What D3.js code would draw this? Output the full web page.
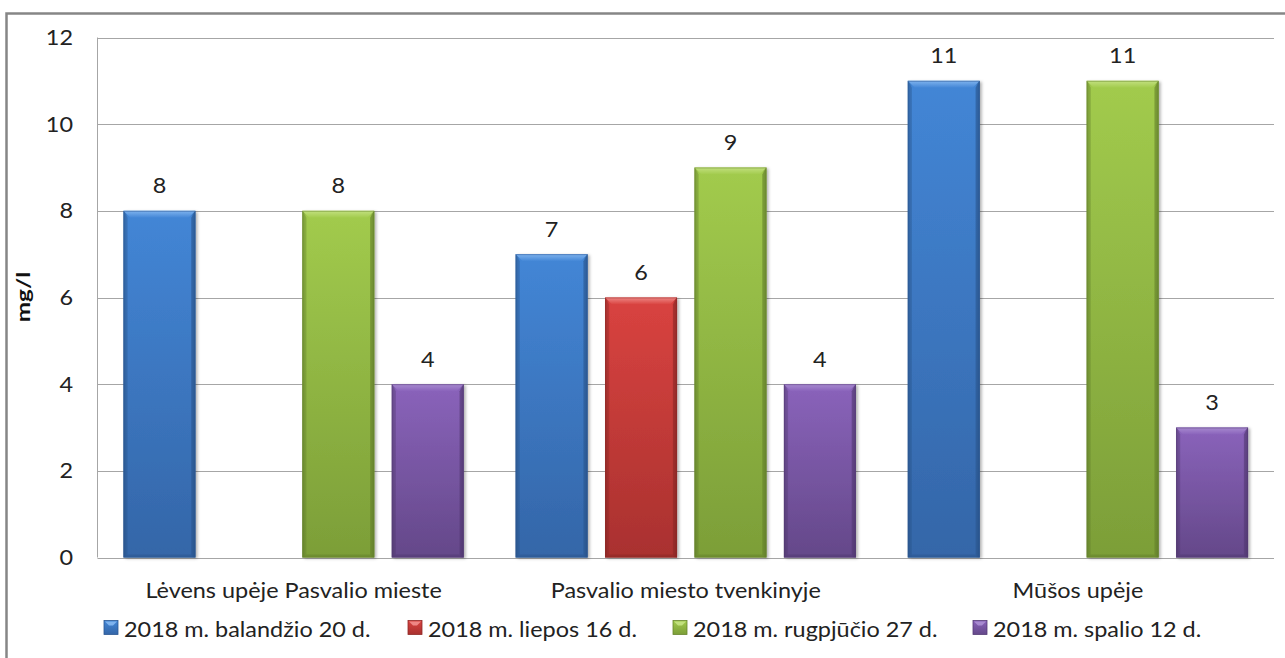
<!DOCTYPE html>
<html><head><meta charset="utf-8">
<script src="https://cdn.jsdelivr.net/npm/d3@7"></script>
<style>html,body{margin:0;padding:0;background:#fff;}svg{display:block;}</style>
</head><body>
<svg id="c" width="1285" height="658"></svg>
<script>
const categories = ["Lėvens upėje Pasvalio mieste", "Pasvalio miesto tvenkinyje", "Mūšos upėje"];
const seriesNames = ["2018 m. balandžio 20 d.", "2018 m. liepos 16 d.", "2018 m. rugpjūčio 27 d.", "2018 m. spalio 12 d."];
const balandzio = [8, 7, 11];
const liepos = [null, 6, null];
const rugpjucio = [8, 9, 11];
const spalio = [4, 4, 3];
const yTicks = [0, 2, 4, 6, 8, 10, 12];
const yLabel = "mg/l";

(function(){
const seriesValues = [balandzio, liepos, rugpjucio, spalio];
const palette = [
  {top:"#7fb3ee", body1:"#4386d6", body2:"#3466a8", edge:"#2b5893"},
  {top:"#ee8785", body1:"#d94340", body2:"#a9312f", edge:"#8f2826"},
  {top:"#c2e07f", body1:"#a2cb4d", body2:"#7c9e38", edge:"#68862d"},
  {top:"#a88bd0", body1:"#8a63bb", body2:"#644889", edge:"#553b76"}
];
const FONT = "Lato, 'Open Sans', sans-serif";
const FS = 21.5;
const SX = 1.09; // horizontal stretch of text, as in the reference

const svg = d3.select("#c");
const defs = svg.append("defs");
palette.forEach((p,i)=>{
  const g = defs.append("linearGradient").attr("id","body"+i).attr("x1",0).attr("y1",0).attr("x2",0).attr("y2",1);
  g.append("stop").attr("offset","0%").attr("stop-color",p.body1);
  g.append("stop").attr("offset","100%").attr("stop-color",p.body2);
  const h = defs.append("linearGradient").attr("id","side"+i).attr("x1",0).attr("y1",0).attr("x2",1).attr("y2",0);
  h.append("stop").attr("offset","0%").attr("stop-color","#000").attr("stop-opacity",0.18);
  h.append("stop").attr("offset","6%").attr("stop-color","#000").attr("stop-opacity",0.0);
  h.append("stop").attr("offset","94%").attr("stop-color","#000").attr("stop-opacity",0.0);
  h.append("stop").attr("offset","100%").attr("stop-color","#000").attr("stop-opacity",0.25);
  const t = defs.append("linearGradient").attr("id","top"+i).attr("x1",0).attr("y1",0).attr("x2",0).attr("y2",1);
  t.append("stop").attr("offset","0%").attr("stop-color",p.top);
  t.append("stop").attr("offset","100%").attr("stop-color",p.body1);
});
const sh = defs.append("filter").attr("id","shadow").attr("x","-10%").attr("y","-5%").attr("width","130%").attr("height","115%");
sh.append("feDropShadow").attr("dx",2).attr("dy",1).attr("stdDeviation",1.5).attr("flood-color","#000").attr("flood-opacity",0.3);

// outer border
svg.append("rect").attr("x",6.5).attr("y",13.5).attr("width",1290).attr("height",660)
  .attr("fill","#fff").attr("stroke","#868686").attr("stroke-width",2.5);

const pLeft = 97.5, pRight = 1274, pTop = 37.5, pBottom = 557.5;
const y = d3.scaleLinear().domain([0,12]).range([pBottom, pTop]);
const x0 = d3.scaleBand().domain(categories).range([pLeft, pRight]).padding(0);
const x1 = d3.scaleBand().domain(d3.range(4)).range([0, x0.bandwidth()]).paddingInner(0.195).paddingOuter(0.29);

// gridlines
svg.append("g").selectAll("line").data(yTicks).join("line")
  .attr("x1", pLeft).attr("x2", pRight)
  .attr("y1", d=>Math.round(y(d))+0.5).attr("y2", d=>Math.round(y(d))+0.5)
  .attr("stroke","#a6a6a6").attr("stroke-width",1);
svg.append("line").attr("x1",pLeft).attr("x2",pLeft).attr("y1",pTop).attr("y2",pBottom)
  .attr("stroke","#a6a6a6");

// y axis
const yAxis = d3.axisLeft(y).tickValues(yTicks).tickSize(0).tickPadding(24.5/SX).tickFormat(d3.format("d"));
const ya = svg.append("g").attr("transform",`translate(${pLeft},0)`).call(yAxis);
ya.select(".domain").remove();
ya.selectAll("text").attr("font-family",FONT).attr("font-size",FS).attr("fill","#222")
  .attr("transform",`scale(${SX},1)`);

svg.append("text").attr("transform",`translate(30,297) rotate(-90) scale(1.35,1)`)
  .attr("text-anchor","middle").attr("font-family",FONT).attr("font-weight","bold")
  .attr("font-size",18).attr("fill","#111").text(yLabel);

// bars
const data = [];
categories.forEach((c,ci)=>seriesValues.forEach((s,si)=>{ if(s[ci]!=null) data.push({c, si, v:s[ci]}); }));
const bars = svg.append("g").selectAll("g").data(data).join("g")
  .attr("transform", d=>`translate(${x0(d.c)+x1(d.si)},0)`);
const bw = x1.bandwidth();
const bev = 7;
bars.append("rect").attr("x",0).attr("width",bw).attr("y",d=>y(d.v)).attr("height",d=>y(0)-y(d.v))
  .attr("fill",d=>`url(#body${d.si})`).attr("filter","url(#shadow)");
bars.append("rect").attr("x",0).attr("width",bw).attr("y",d=>y(d.v)).attr("height",d=>y(0)-y(d.v))
  .attr("fill",d=>`url(#side${d.si})`);
bars.append("path").attr("d",d=>{
  const t=y(d.v);
  return `M0,${t} L${bw},${t} L${bw-bev},${t+bev} L${bev},${t+bev} Z`;
}).attr("fill",d=>`url(#top${d.si})`);
bars.append("path").attr("d",d=>{
  const t=y(d.v), b=y(0);
  return `M0,${t} L${bev*0.6},${t+bev} L${bev*0.6},${b-3} L0,${b} Z`;
}).attr("fill",d=>palette[d.si].edge).attr("opacity",0.35);
bars.append("path").attr("d",d=>{
  const t=y(d.v), b=y(0);
  return `M${bw},${t} L${bw-bev*0.6},${t+bev} L${bw-bev*0.6},${b-3} L${bw},${b} Z`;
}).attr("fill",d=>palette[d.si].edge).attr("opacity",0.6);
bars.append("path").attr("d",d=>{
  const b=y(0);
  return `M0,${b} L${bev*0.6},${b-3} L${bw-bev*0.6},${b-3} L${bw},${b} Z`;
}).attr("fill",d=>palette[d.si].edge).attr("opacity",0.6);
bars.append("rect").attr("x",0.5).attr("width",bw-1).attr("y",d=>y(d.v)+0.5).attr("height",d=>y(0)-y(d.v)-1)
  .attr("fill","none").attr("stroke",d=>palette[d.si].edge).attr("stroke-opacity",0.5);

bars.append("text").attr("transform",d=>`translate(${bw/2},${y(d.v)-17.5}) scale(${SX},1)`)
  .attr("text-anchor","middle")
  .attr("font-family",FONT).attr("font-size",FS).attr("fill","#222").text(d=>d.v);

const xAxis = d3.axisBottom(x0).tickSize(0).tickPadding(25.5);
const xa = svg.append("g").attr("transform",`translate(0,${pBottom})`).call(xAxis);
xa.select(".domain").remove();
xa.selectAll("text").attr("font-family",FONT).attr("font-size",FS).attr("fill","#222")
  .attr("transform",`scale(${SX},1)`);

const legX = [104, 408, 673, 973];
const lg = svg.append("g").selectAll("g").data(seriesNames).join("g")
  .attr("transform",(d,i)=>`translate(${legX[i]},620.5)`);
lg.append("rect").attr("width",14).attr("height",14).attr("fill",(d,i)=>`url(#body${i})`)
  .attr("stroke",(d,i)=>palette[i].edge).attr("stroke-width",0.8);
lg.append("path").attr("d","M1,1 L13,1 L9,5 L5,5 Z").attr("fill",(d,i)=>palette[i].top);
lg.append("text").attr("transform",`translate(20,16) scale(${SX},1)`)
  .attr("font-family",FONT).attr("font-size",FS).attr("fill","#222").text(d=>d);
})();
</script>
</body></html>
